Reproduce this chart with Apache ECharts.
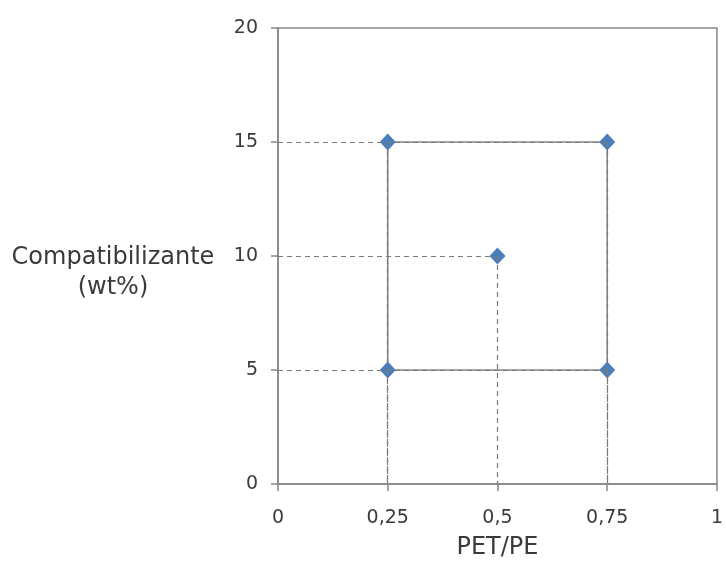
<!DOCTYPE html>
<html>
<head>
<meta charset="utf-8">
<script src="https://cdn.jsdelivr.net/npm/echarts@6/dist/echarts.min.js"></script>
<style>
  html, body { margin: 0; padding: 0; background: #ffffff; }
  #chart { width: 726px; height: 568px; }
</style>
</head>
<body>
<div id="chart"></div>
<script>
// Experimental design points: PET/PE ratio vs. compatibilizer content
const petPe  = [0.25, 0.25, 0.75, 0.75, 0.5];
const compat = [5, 15, 15, 5, 10];
// Corners of the factorial square, in drawing order (closed)
const squareOrder = [0, 1, 2, 3, 0];
// Axis tick labels (decimal comma)
const xTickLabels = { 0: '0', 0.25: '0,25', 0.5: '0,5', 0.75: '0,75', 1: '1' };

const FONT = '"DejaVu Sans", Verdana, sans-serif';
const GRAY = '#868686';
const TEXT = '#3a3a3a';

const points = petPe.map((x, i) => [x, compat[i]]);
const squareData = squareOrder.map(i => points[i]);

// Dashed guides from every point to both axes
const guides = [];
points.forEach(([x, y]) => {
  guides.push([{ coord: [0, y] }, { coord: [x, y] }]);
  guides.push([{ coord: [x, y] }, { coord: [x, 0] }]);
});

const chart = echarts.init(document.getElementById('chart'), null, { renderer: 'canvas' });
chart.setOption({
  animation: false,
  backgroundColor: '#ffffff',
  grid: {
    left: 278, right: 5, top: 28, bottom: 84,
    show: true, borderColor: GRAY, borderWidth: 1.5, backgroundColor: 'transparent'
  },
  xAxis: {
    type: 'value', min: 0, max: 1, interval: 0.25,
    name: 'PET/PE', nameLocation: 'middle', nameGap: 52,
    nameTextStyle: { fontFamily: FONT, fontSize: 24, color: TEXT },
    axisLine: { show: true, onZero: false, lineStyle: { color: GRAY, width: 1.5 } },
    axisTick: { show: true, inside: false, length: 7, lineStyle: { color: GRAY, width: 1.5 } },
    axisLabel: {
      margin: 25, fontFamily: FONT, fontSize: 19, color: TEXT,
      formatter: v => xTickLabels[v] !== undefined ? xTickLabels[v] : String(v).replace('.', ',')
    },
    splitLine: { show: false }
  },
  yAxis: {
    type: 'value', min: 0, max: 20, interval: 5,
    axisLine: { show: true, onZero: false, lineStyle: { color: GRAY, width: 1.5 } },
    axisTick: { show: true, inside: false, length: 7, lineStyle: { color: GRAY, width: 1.5 } },
    axisLabel: { margin: 20, fontFamily: FONT, fontSize: 19, color: TEXT },
    splitLine: { show: false }
  },
  graphic: [{
    type: 'text', x: 113, y: 273,
    style: {
      text: 'Compatibilizante\n(wt%)',
      fontFamily: FONT, fontSize: 24, lineHeight: 30, fill: TEXT,
      align: 'center', verticalAlign: 'middle'
    }
  }],
  series: [
    {
      // dashed projection lines
      type: 'scatter', data: [], silent: true, z: 1,
      markLine: {
        silent: true, symbol: ['none', 'none'], animation: false,
        label: { show: false },
        lineStyle: { color: '#7a7a7a', type: [5, 4], width: 1.2, opacity: 1 },
        emphasis: { disabled: true },
        data: guides
      }
    },
    {
      // solid square linking the factorial corners
      type: 'line', data: squareData, z: 2, silent: true,
      showSymbol: false, symbol: 'none',
      lineStyle: { color: GRAY, width: 1.6 }
    },
    {
      type: 'scatter', data: points, z: 3,
      symbol: 'diamond', symbolSize: [16, 17],
      itemStyle: { color: '#4A7EBB', opacity: 1 }
    }
  ]
});
</script>
</body>
</html>
